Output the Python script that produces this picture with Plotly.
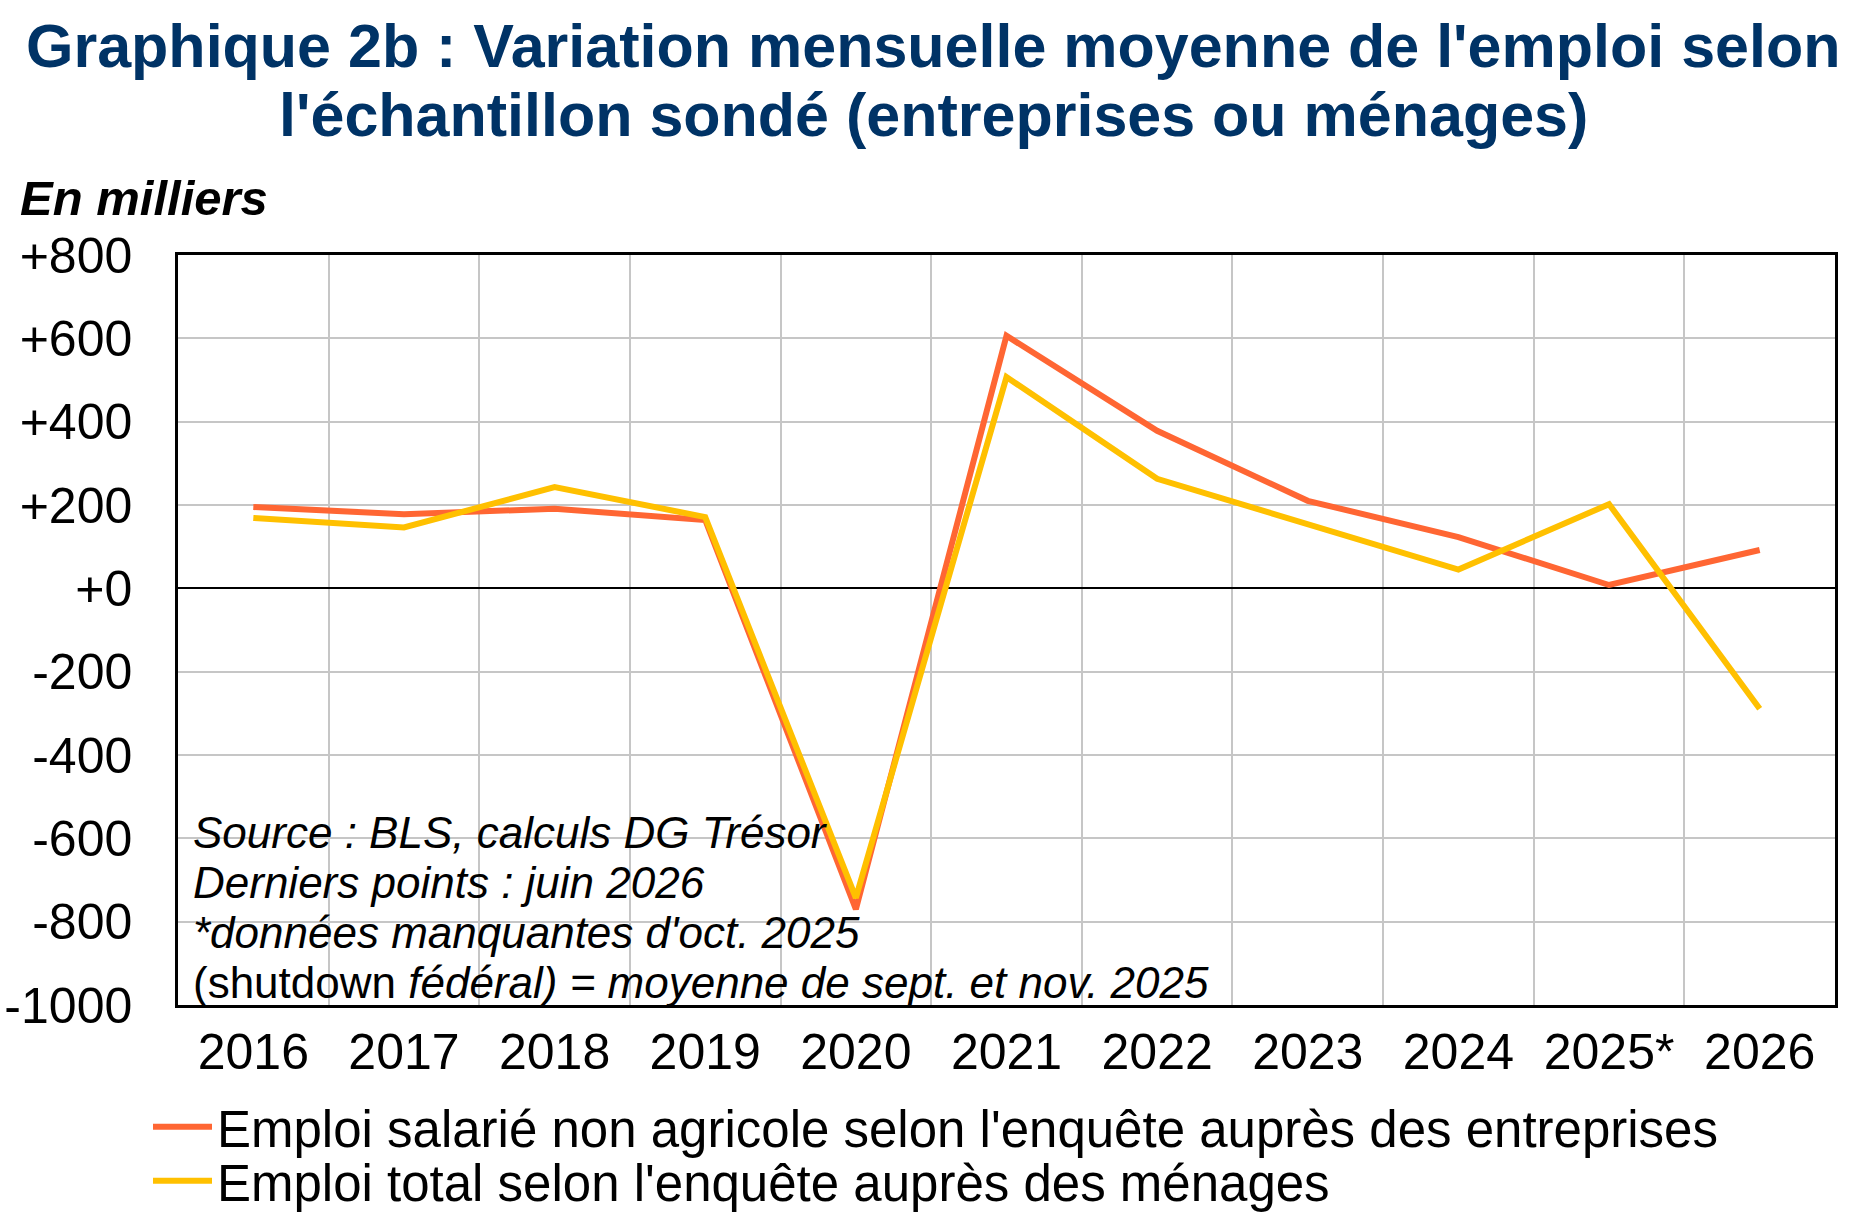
import plotly.graph_objects as go

# ---- data ----
categories = ["2016", "2017", "2018", "2019", "2020", "2021", "2022", "2023", "2024", "2025*", "2026"]
emploi_salarie = [195, 178, 191, 164, -770, 606, 378, 210, 123, 8, 92]
emploi_total = [169, 146, 243, 171, -743, 507, 263, 155, 45, 202, -289]
y_tickvals = [800, 600, 400, 200, 0, -200, -400, -600, -800, -1000]
y_ticktext = ["+800", "+600", "+400", "+200", "+0", "-200", "-400", "-600", "-800", "-1000"]
name_salarie = "Emploi salarié non agricole selon l'enquête auprès des entreprises"
name_total = "Emploi total selon l'enquête auprès des ménages"
title_line1 = "Graphique 2b : Variation mensuelle moyenne de l'emploi selon"
title_line2 = "l'échantillon sondé (entreprises ou ménages)"
unit_label = "En milliers"
notes = [
    "<i>Source : BLS, calculs DG Trésor</i>",
    "<i>Derniers points : juin 2026</i>",
    "<i>*données manquantes d'oct. 2025</i>",
    "(shutdown <i>fédéral) = moyenne de sept. et nov. 2025</i>",
]

W, H = 1866, 1214
L, R, T, B = 178, 1835, 255, 1005
FONT = "Arial, 'Liberation Sans', sans-serif"
NAVY = "#003366"
ORANGE = "#FF6633"
YELLOW = "#FFC000"


def px_x(x):
    return (x - L) / (R - L)


def px_y(y):
    return (B - y) / (B - T)


fig = go.Figure()
fig.add_trace(go.Scatter(x=categories, y=emploi_salarie, mode="lines", name=name_salarie,
                         line=dict(color=ORANGE, width=6), legend="legend"))
fig.add_trace(go.Scatter(x=categories, y=emploi_total, mode="lines", name=name_total,
                         line=dict(color=YELLOW, width=6), legend="legend2"))

annotations = [
    dict(text="<b>" + title_line1 + "</b>", x=px_x(933), y=px_y(46), xanchor="center", yanchor="middle",
         font=dict(size=61, color=NAVY, family=FONT)),
    dict(text="<b>" + title_line2 + "</b>", x=px_x(933), y=px_y(115), xanchor="center", yanchor="middle",
         font=dict(size=61, color=NAVY, family=FONT)),
    dict(text="<b><i>" + unit_label + "</i></b>", x=px_x(18), y=px_y(198), xanchor="left", yanchor="middle",
         font=dict(size=49, color="black", family=FONT)),
]
baselines = [847, 897, 947, 997]
for txt, bl in zip(notes, baselines):
    annotations.append(dict(text=txt, x=px_x(191), y=px_y(bl - 15), xanchor="left", yanchor="middle",
                            font=dict(size=44, color="black", family=FONT)))
for a in annotations:
    a.update(xref="paper", yref="paper", showarrow=False)

legend_common = dict(xref="container", yref="container", xanchor="left", yanchor="middle",
                     font=dict(size=51, color="black", family=FONT), itemwidth=59,
                     bgcolor="rgba(0,0,0,0)", borderwidth=0, tracegroupgap=0)

fig.update_layout(
    width=W, height=H,
    margin=dict(l=L, r=W - R, t=T, b=H - B, pad=0, autoexpand=False),
    paper_bgcolor="white", plot_bgcolor="white",
    font=dict(family=FONT, color="black"),
    showlegend=True,
    legend=dict(x=148 / W, y=1 - 1127 / H, **legend_common),
    legend2=dict(x=148 / W, y=1 - 1181 / H, **legend_common),
    annotations=annotations,
    xaxis=dict(type="category", range=[-0.5, 10.5], tickson="boundaries", showgrid=True,
               gridcolor="#C6C6C6", gridwidth=2, ticks="", showline=True, mirror=True,
               linecolor="black", linewidth=2.5, tickfont=dict(size=50, family=FONT, color="black"),
               tickangle=0, ticklabelstandoff=1, fixedrange=True, automargin=False),
    yaxis=dict(range=[-1000, 800], tickvals=y_tickvals, ticktext=y_ticktext, showgrid=True,
               gridcolor="#C6C6C6", gridwidth=2, zeroline=True, zerolinecolor="black",
               zerolinewidth=2, ticks="", showline=True, mirror=True, linecolor="black",
               linewidth=2.5, tickfont=dict(size=50, family=FONT, color="black"),
               ticklabelstandoff=33, fixedrange=True, automargin=False),
)

fig.write_html("out.html", config={"displayModeBar": False})
